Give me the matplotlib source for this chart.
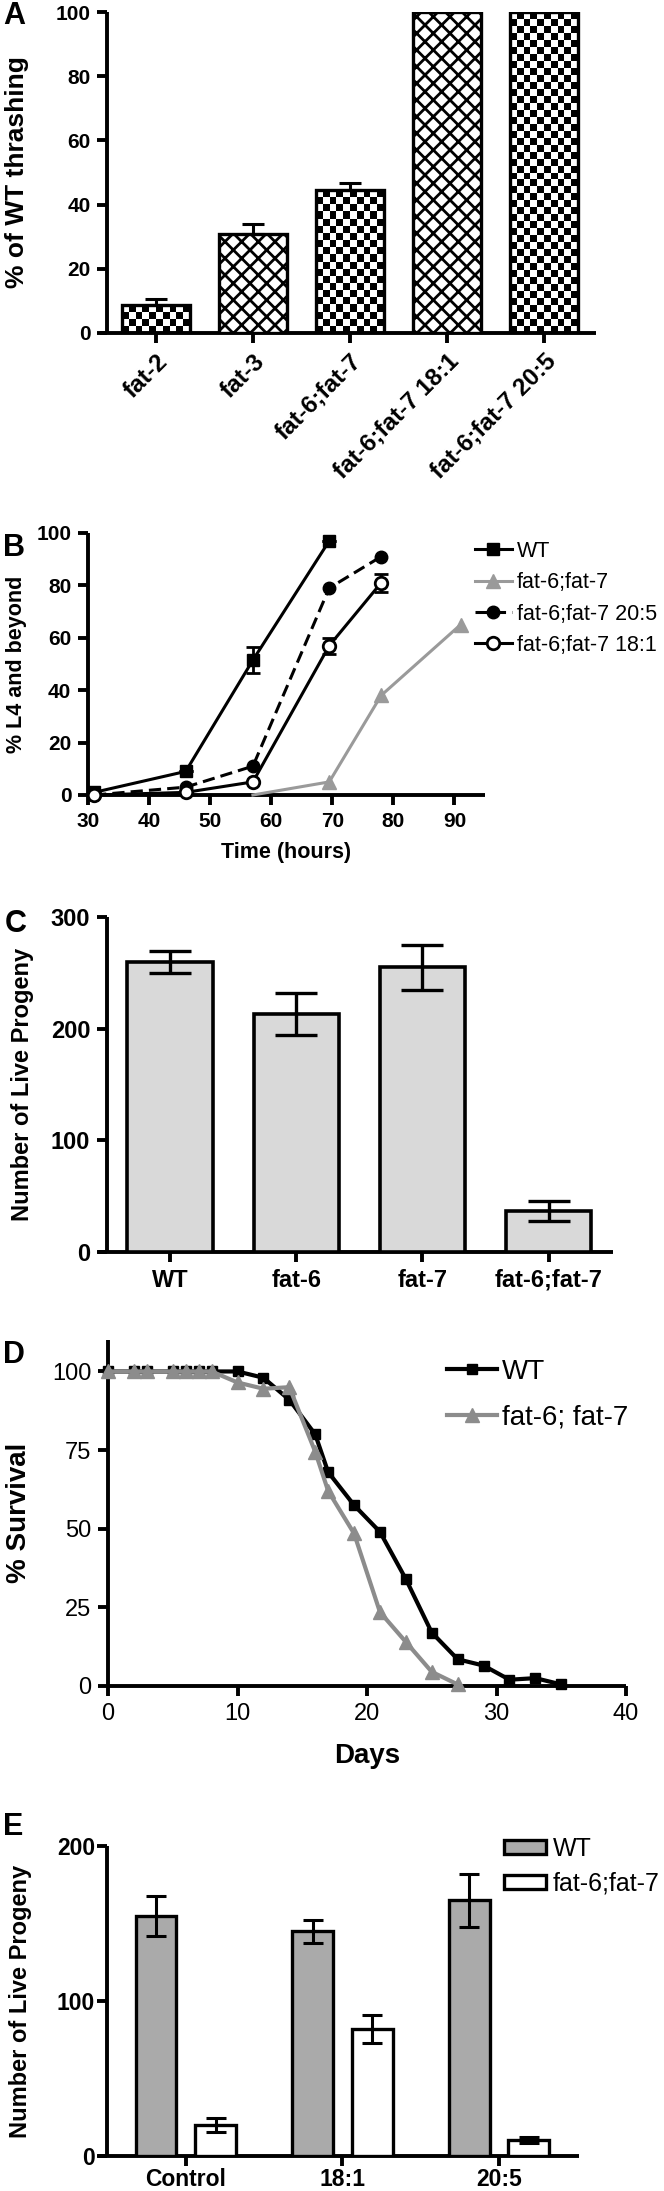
import numpy as np
import matplotlib
matplotlib.use("Agg")
import matplotlib.pyplot as plt

plt.rcParams['font.family'] = ['Liberation Sans', 'DejaVu Sans']
plt.rcParams['hatch.linewidth'] = 2.0

# ---- datos panel A ----
a_labels = ['fat-2', 'fat-3', 'fat-6;fat-7', 'fat-6;fat-7 18:1', 'fat-6;fat-7 20:5']
a_vals = [8.7, 30.8, 44.5, 100, 100]
a_err = [1.9, 3.2, 2.3, 0, 0]
a_pattern = ['checker', 'cross', 'checker', 'cross', 'checker']

# ---- datos panel B ----
b_wt_t = [31, 46, 57, 69.5]
b_wt = [1, 9, 51.5, 97]
b_wt_err = [0, 0, 5, 0]
b_dm_t = [57, 69.5, 78, 91]
b_dm = [0, 5, 38, 65]
b_205_t = [31, 46, 57, 69.5, 78]
b_205 = [0, 3, 11, 79, 91]
b_181_t = [31, 46, 57, 69.5, 78]
b_181 = [0, 1, 5, 57, 81]
b_181_err = [0, 0, 0, 3, 3.5]

# ---- datos panel C ----
c_labels = ['WT', 'fat-6', 'fat-7', 'fat-6;fat-7']
c_vals = [260, 213, 255, 37]
c_err = [10, 19, 20, 9]

# ---- datos panel D ----
d_wt_days = [0, 2, 3, 5, 6, 7, 8, 10, 12, 14, 16, 17, 19, 21, 23, 25, 27, 29, 31, 33, 35]
d_wt = [100, 100, 100, 100, 100, 100, 100, 100, 98, 91, 80, 68, 57.5, 49, 34, 17, 8.5, 6.5, 2, 2.5, 0.5]
d_dm_days = [0, 2, 3, 5, 6, 7, 8, 10, 12, 14, 16, 17, 19, 21, 23, 25, 27]
d_dm = [100, 100, 100, 100, 100, 100, 100, 96.5, 94.5, 95, 74.5, 62, 48.5, 23.5, 14, 4.5, 0.5]

# ---- datos panel E ----
e_groups = ['Control', '18:1', '20:5']
e_wt = [155, 145, 165]
e_wt_err = [13, 7.5, 17]
e_dm = [20, 82, 10.5]
e_dm_err = [4.3, 9, 2]

W, H = 664, 2191
fig = plt.figure(figsize=(W / 100, H / 100), dpi=100)


def caja(l, t, r, b):
    return [l / W, 1 - b / H, (r - l) / W, (b - t) / H]


def estilo(ax, size, bold=True, lw=2.8, pad=5):
    for s in ['top', 'right']:
        ax.spines[s].set_visible(False)
    for s in ['left', 'bottom']:
        ax.spines[s].set_linewidth(lw)
        ax.spines[s].set_capstyle('butt')
    ax.tick_params(direction='out', length=7, width=lw, labelsize=size, pad=pad)
    for t in ax.get_xticklabels() + ax.get_yticklabels():
        t.set_fontweight('bold' if bold else 'normal')


def ylab(ax, x, texto, size):
    ax.text(x, 0.5, texto, transform=ax.transAxes, rotation=90, ha='center', va='center',
            fontsize=size, fontweight='bold')


def letra(texto, x, y):
    fig.text(x / W, 1 - y / H, texto, fontsize=22, fontweight='bold', ha='left', va='center')


# ================= A =================
axA = fig.add_axes(caja(100, 12, 596, 333))
xA = np.arange(len(a_labels))
barsA = axA.bar(xA, a_vals, width=0.7, facecolor='white', edgecolor='black', linewidth=2.4, zorder=3)
axA.errorbar(xA, a_vals, yerr=[np.zeros(len(a_err)), a_err], fmt='none', ecolor='black',
             elinewidth=2.2, capsize=8, capthick=2.2, zorder=2)
axA.set_xlim(-0.577, 4.536)
axA.set_ylim(0, 100)
axA.spines['left'].set_position(('data', -0.5))
fig.canvas.draw()
# tablero de ajedrez recortado a cada barra
for bar, pat in zip(barsA, a_pattern):
    if pat == 'cross':
        bar.set_hatch('xx')
        continue
    bar.set_facecolor('none')
    x0, h, w = bar.get_x(), bar.get_height(), bar.get_width()
    p0 = axA.transData.transform((x0, 0))
    p1 = axA.transData.transform((x0 + w, h))
    nc = max(1, int(round((p1[0] - p0[0]) / 7.0)))
    nr = max(1, int(round((p1[1] - p0[1]) / 7.0)))
    img = np.indices((nr, nc)).sum(axis=0) % 2
    im = axA.imshow(img, cmap='gray', extent=[x0, x0 + w, 0, h], origin='lower',
                    interpolation='nearest', aspect='auto', zorder=1)
    im.set_clip_path(bar)
axA.set_xlim(-0.577, 4.536)
axA.set_ylim(0, 100)
axA.set_yticks([0, 20, 40, 60, 80, 100])
axA.set_xticks(xA)
axA.set_xticklabels(a_labels, rotation=45, ha='right', va='top', rotation_mode='anchor')
estilo(axA, 15)
for t in axA.get_xticklabels():
    t.set_fontsize(17.5)
ylab(axA, -0.167, '% of WT thrashing', 19)
letra('A', 3, 16)

# ================= B =================
axB = fig.add_axes(caja(88, 533, 485, 795))
axB.plot(b_wt_t, b_wt, color='black', lw=2.2, marker='s', ms=9, label='WT', zorder=4)
axB.errorbar(b_wt_t, b_wt, yerr=b_wt_err, fmt='none', ecolor='black', elinewidth=2, capsize=5, capthick=2)
axB.plot(b_dm_t, b_dm, color='#9a9a9a', lw=2.2, marker='^', ms=10, markevery=[1, 2, 3],
         label='fat-6;fat-7', zorder=3)
axB.plot(b_205_t, b_205, color='black', lw=2.2, ls=(0, (4, 2)), marker='o', ms=9,
         label='fat-6;fat-7 20:5', zorder=4)
axB.plot(b_181_t, b_181, color='black', lw=2.2, marker='o', ms=9, mfc='white', mew=2,
         label='fat-6;fat-7 18:1', zorder=4)
axB.errorbar(b_181_t, b_181, yerr=b_181_err, fmt='none', ecolor='black', elinewidth=2, capsize=5, capthick=2)
axB.set_xlim(30, 95)
axB.set_ylim(0, 100)
axB.set_xticks(range(30, 100, 10))
axB.set_yticks(range(0, 120, 20))
for ln in axB.lines:
    ln.set_clip_on(False)
estilo(axB, 15)
ylab(axB, -0.179, '% L4 and beyond', 15.5)
axB.text(0.5, -0.221, 'Time (hours)', transform=axB.transAxes, ha='center', va='center',
         fontsize=15.5, fontweight='bold')
axB.legend(loc='upper left', bbox_to_anchor=(0.975, 0.97), frameon=False, fontsize=15.5,
           handlelength=1.7, handletextpad=0.25, labelspacing=0.48, borderpad=0, borderaxespad=0)
letra('B', 3, 548)

# ================= C =================
axC = fig.add_axes(caja(98, 917, 613, 1252))
xC = np.arange(len(c_labels))
axC.bar(xC, c_vals, width=0.675, facecolor='#d9d9d9', edgecolor='black', linewidth=2.6, zorder=3)
axC.errorbar(xC, c_vals, yerr=c_err, fmt='none', ecolor='black', elinewidth=2.4,
             capsize=15, capthick=2.4, zorder=4)
axC.set_xlim(-0.57, 3.51)
axC.set_ylim(0, 300)
axC.spines['left'].set_position(('data', -0.5))
axC.set_xticks(xC)
axC.set_xticklabels(c_labels)
axC.set_yticks([0, 100, 200, 300])
estilo(axC, 17)
ylab(axC, -0.146, 'Number of Live Progeny', 17)
letra('C', 5, 924)

# ================= D =================
axD = fig.add_axes(caja(108, 1340, 626, 1686))
axD.plot(d_wt_days, d_wt, color='black', lw=3, marker='s', ms=7, label='WT', zorder=3)
axD.plot(d_dm_days, d_dm, color='#8c8c8c', lw=3, marker='^', ms=10, label='fat-6; fat-7', zorder=4)
axD.set_xlim(0, 40)
axD.set_ylim(0, 110)
axD.set_xticks([0, 10, 20, 30, 40])
axD.set_yticks([0, 25, 50, 75, 100])
for ln in axD.lines:
    ln.set_clip_on(False)
estilo(axD, 17, bold=False)
ylab(axD, -0.172, '% Survival', 20)
axD.text(0.5, -0.202, 'Days', transform=axD.transAxes, ha='center', va='center',
         fontsize=20, fontweight='bold')
axD.legend(loc='upper left', bbox_to_anchor=(0.654, 0.945), frameon=False, fontsize=20,
           handlelength=1.8, handletextpad=0.2, labelspacing=0.7, borderpad=0, borderaxespad=0)
letra('D', 3, 1355)

# ================= E =================
axE = fig.add_axes(caja(98, 1846, 579, 2156))
xE = np.arange(len(e_groups))
off = 0.19
axE.bar(xE - off, e_wt, width=0.26, facecolor='#aaaaaa', edgecolor='black', linewidth=2.4,
        label='WT', zorder=3)
axE.bar(xE + off, e_dm, width=0.26, facecolor='white', edgecolor='black', linewidth=2.4,
        label='fat-6;fat-7', zorder=3)
axE.errorbar(xE - off, e_wt, yerr=e_wt_err, fmt='none', ecolor='black', elinewidth=2.2,
             capsize=7, capthick=2.2, zorder=4)
axE.errorbar(xE + off, e_dm, yerr=e_dm_err, fmt='none', ecolor='black', elinewidth=2.2,
             capsize=7, capthick=2.2, zorder=4)
axE.set_xlim(-0.56, 2.51)
axE.set_ylim(0, 200)
axE.spines['left'].set_position(('data', -0.5))
axE.set_xticks(xE)
axE.set_xticklabels(e_groups)
axE.set_yticks([0, 100, 200])
estilo(axE, 16.5, pad=2)
ylab(axE, -0.162, 'Number of Live Progeny', 17)
axE.legend(loc='upper left', bbox_to_anchor=(0.844, 1.03), frameon=False, fontsize=18,
           handlelength=1.7, handleheight=0.5, handletextpad=0.25, labelspacing=0.45,
           borderpad=0, borderaxespad=0)
letra('E', 3, 1827)

fig.savefig('out.png', dpi=100)
